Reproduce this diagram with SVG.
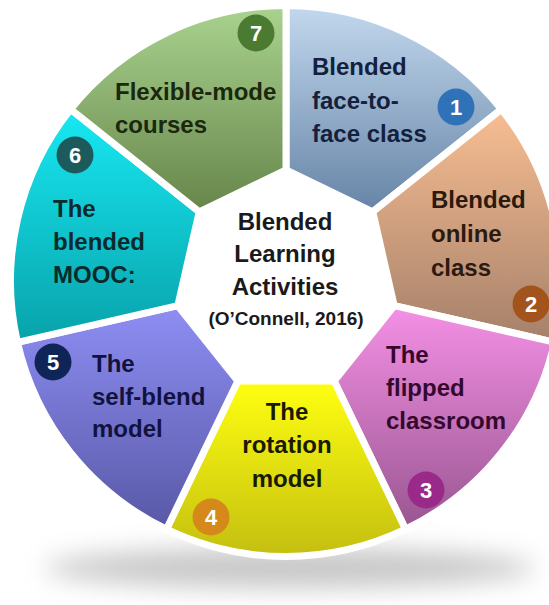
<svg xmlns="http://www.w3.org/2000/svg" width="549" height="605" viewBox="0 0 549 605">
<defs>
<style>
.seg{stroke:#ffffff;stroke-width:7;stroke-linejoin:miter}
.t{font-family:"Liberation Sans",Arial,sans-serif;font-weight:bold;font-size:24px}
.c{font-family:"Liberation Sans",Arial,sans-serif;font-weight:bold;font-size:24px;fill:#1a1a1a;text-anchor:middle}
.cite{font-family:"Liberation Sans",Arial,sans-serif;font-weight:bold;font-size:19px;fill:#1a1a1a;text-anchor:middle}
.n{font-family:"Liberation Sans",Arial,sans-serif;font-weight:bold;font-size:22px;fill:#ffffff;text-anchor:middle}
</style>
<linearGradient id="gGreen" x1="0" y1="0" x2="0" y2="1"><stop offset="0" stop-color="#aad38f"/><stop offset="1" stop-color="#66854a"/></linearGradient>
<linearGradient id="gBlue" x1="0" y1="0" x2="0" y2="1"><stop offset="0" stop-color="#c2d8ee"/><stop offset="1" stop-color="#6684a6"/></linearGradient>
<linearGradient id="gOrange" x1="0" y1="0" x2="0" y2="1"><stop offset="0" stop-color="#f8be92"/><stop offset="1" stop-color="#a5806a"/></linearGradient>
<linearGradient id="gPink" x1="0" y1="0" x2="0" y2="1"><stop offset="0" stop-color="#f590e6"/><stop offset="1" stop-color="#985690"/></linearGradient>
<linearGradient id="gYellow" x1="0" y1="0" x2="0" y2="1"><stop offset="0" stop-color="#ffff10"/><stop offset="1" stop-color="#c4bf10"/></linearGradient>
<linearGradient id="gPurple" x1="0" y1="0" x2="0" y2="1"><stop offset="0" stop-color="#8e8ef4"/><stop offset="1" stop-color="#5858a6"/></linearGradient>
<linearGradient id="gCyan" x1="0" y1="0" x2="0" y2="1"><stop offset="0" stop-color="#18e8f2"/><stop offset="1" stop-color="#08a2aa"/></linearGradient>
<filter id="blur" x="-20%" y="-150%" width="140%" height="400%"><feGaussianBlur stdDeviation="13"/></filter>
</defs>
<rect width="549" height="605" fill="#ffffff"/>
<ellipse cx="290" cy="568" rx="245" ry="20" fill="#b4b4b4" opacity="0.75" filter="url(#blur)"/>
<g id="connectors"/>
<g id="node-1">
<path class="seg" fill="url(#gBlue)" d="M286,170 L286,5.5 A275.5,275.5 0 0,1 501.39,109.23 L372.78,211.79 Z"/>
<circle cx="456" cy="107" r="18.5" fill="#2f72b8"/>
<text class="n" x="456" y="115">1</text>
<text class="t" fill="#14213d" x="312" y="75">Blended</text>
<text class="t" fill="#14213d" x="312" y="109">face-to-</text>
<text class="t" fill="#14213d" x="312" y="142">face class</text>
</g>
<g id="node-2">
<path class="seg" fill="url(#gOrange)" d="M372.78,211.79 L501.39,109.23 A275.5,275.5 0 0,1 554.59,342.30 L394.22,305.70 Z"/>
<circle cx="531" cy="304" r="18.5" fill="#a3541c"/>
<text class="n" x="531" y="312">2</text>
<text class="t" fill="#2a1a10" x="431" y="208">Blended</text>
<text class="t" fill="#2a1a10" x="431" y="242">online</text>
<text class="t" fill="#2a1a10" x="431" y="276">class</text>
</g>
<g id="node-3">
<path class="seg" fill="url(#gPink)" d="M394.22,305.70 L554.59,342.30 A275.5,275.5 0 0,1 405.54,529.22 L334.16,381.01 Z"/>
<circle cx="426" cy="490" r="18.5" fill="#9a2a8a"/>
<text class="n" x="426" y="498">3</text>
<text class="t" fill="#35082e" x="386" y="363">The</text>
<text class="t" fill="#35082e" x="386" y="396">flipped</text>
<text class="t" fill="#35082e" x="386" y="429">classroom</text>
</g>
<g id="node-4">
<path class="seg" fill="url(#gYellow)" d="M334.16,381.01 L405.54,529.22 A275.5,275.5 0 0,1 166.46,529.22 L237.84,381.01 Z"/>
<circle cx="211" cy="517" r="18.5" fill="#d4891a"/>
<text class="n" x="211" y="525">4</text>
<text class="t" fill="#1a1a00" x="287" y="420" text-anchor="middle">The</text>
<text class="t" fill="#1a1a00" x="287" y="453" text-anchor="middle">rotation</text>
<text class="t" fill="#1a1a00" x="287" y="487" text-anchor="middle">model</text>
</g>
<g id="node-5">
<path class="seg" fill="url(#gPurple)" d="M237.84,381.01 L166.46,529.22 A275.5,275.5 0 0,1 17.41,342.30 L177.78,305.70 Z"/>
<circle cx="53" cy="362" r="18.5" fill="#0f2558"/>
<text class="n" x="53" y="370">5</text>
<text class="t" fill="#12123e" x="92" y="372">The</text>
<text class="t" fill="#12123e" x="92" y="405">self-blend</text>
<text class="t" fill="#12123e" x="92" y="437">model</text>
</g>
<g id="node-6">
<path class="seg" fill="url(#gCyan)" d="M177.78,305.70 L17.41,342.30 A275.5,275.5 0 0,1 70.61,109.23 L199.22,211.79 Z"/>
<circle cx="75" cy="155" r="18.5" fill="#1c5a5c"/>
<text class="n" x="75" y="163">6</text>
<text class="t" fill="#0a2a2c" x="53" y="217">The</text>
<text class="t" fill="#0a2a2c" x="53" y="250">blended</text>
<text class="t" fill="#0a2a2c" x="53" y="283">MOOC:</text>
</g>
<g id="node-7">
<path class="seg" fill="url(#gGreen)" d="M199.22,211.79 L70.61,109.23 A275.5,275.5 0 0,1 286,5.5 L286,170 Z"/>
<circle cx="256" cy="33" r="18.5" fill="#4b7b30"/>
<text class="n" x="256" y="41">7</text>
<text class="t" fill="#1a280e" x="115" y="100">Flexible-mode</text>
<text class="t" fill="#1a280e" x="115" y="133">courses</text>
</g>
<g id="center">
<text class="c" x="285" y="230">Blended</text>
<text class="c" x="285" y="262">Learning</text>
<text class="c" x="285" y="295">Activities</text>
<text class="cite" x="286" y="325">(O’Connell, 2016)</text>
</g>
</svg>
